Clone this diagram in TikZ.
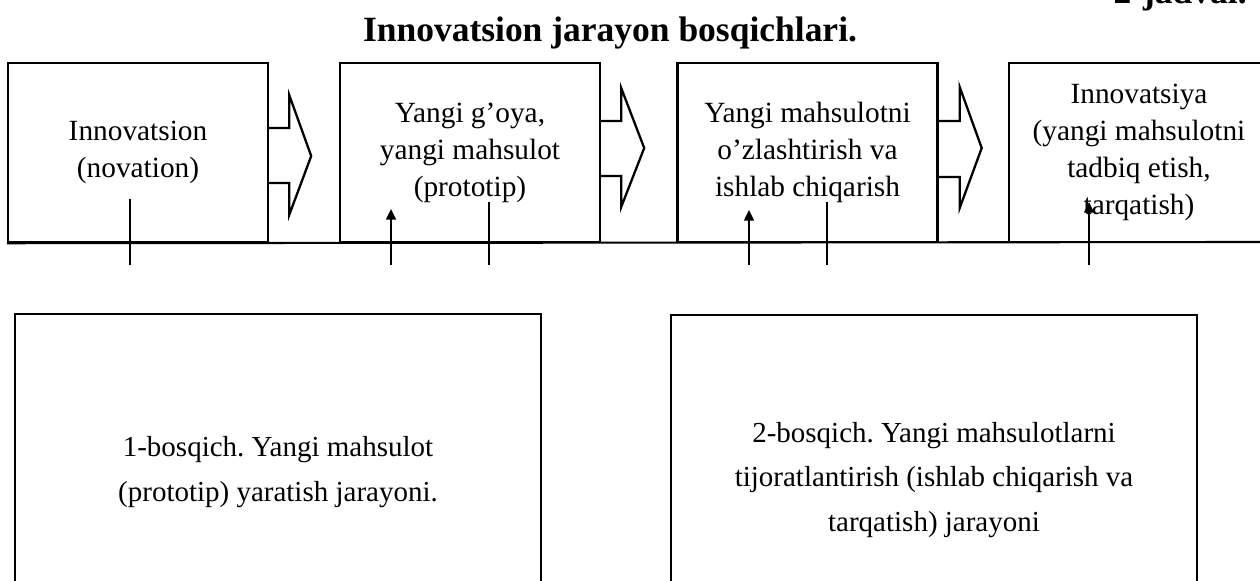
\documentclass[tikz,border=0pt]{standalone}
\usepackage{fontspec}
\setmainfont{Liberation Serif}
\usepackage{tikz}
\usetikzlibrary{calc,arrows.meta}
\frenchspacing
\tikzset{
	stage/.style={rectangle,draw,line width=1.4pt,minimum width=5.2cm,minimum height=3.58cm,inner sep=0pt,align=center,font=\fontsize{16.7}{21}\selectfont},
	phase/.style={rectangle,draw,line width=1.4pt,minimum width=10.52cm,inner sep=0pt,align=center,font=\fontsize{16.5}{25.5}\selectfont},
	heading/.style={font=\fontsize{20.2}{24}\selectfont\bfseries,inner sep=0pt},
	blockarrow/.style={line width=1.3pt,line join=miter},
	link/.style={line width=1.2pt},
	up/.style={line width=1.2pt,arrows={-Triangle[length=6pt,width=5.5pt]}}
	}

\begin{document}
\begin{tikzpicture}[x=0.02cm,y=-0.02cm]
          \useasboundingbox (0,0) rectangle (1260,581);
          \node[heading,anchor=base east] (tab) at (1247,4) {2-jadval.};
          \node[heading,anchor=base] (title) at (610,42) {Innovatsion jarayon bosqichlari.};

          \node[stage] (b1) at (138,152.5) {Innovatsion\\(novation)};
          \node[stage] (b2) at (470,152.5) {Yangi g’oya,\\yangi mahsulot\\(prototip)};
          \node[stage] (b3) at (807.5,152.5) {Yangi mahsulotni\\o’zlashtirish va\\ishlab chiqarish};
          \node[stage] (b4) at (1139,152.5) {Innovatsiya\\(yangi mahsulotni\\tadbiq etish,\\tarqatish)};

          \node[phase,minimum height=6.32cm] (p1) at (278,472) {1-bosqich. Yangi mahsulot\\(prototip) yaratish jarayoni.};
          \node[phase,minimum height=6.6cm] (p2) at (934,480) {2-bosqich. Yangi mahsulotlarni\\tijoratlantirish (ishlab chiqarish va\\tarqatish) jarayoni};

          \draw[blockarrow] (b1.east |- 0,128) -- ++(20,0) -- ++(0,-33) -- ++(22,61) -- ++(-22,59) -- ++(0,-32) -- ++(-20,0);
          \draw[blockarrow] (b2.east |- 0,121) -- ++(20,0) -- ++(0,-33) -- ++(23,60) -- ++(-23,59) -- ++(0,-31) -- ++(-20,0);
          \draw[blockarrow] (b3.east |- 0,121) -- ++(21,0) -- ++(0,-34) -- ++(22,61) -- ++(-22,60) -- ++(0,-31) -- ++(-21,0);

          \coordinate (base) at (1260,242);
          \draw[link] (b1.south west) -- (base);

          \coordinate (d1) at (130,199);
          \coordinate (d2) at (489,202);
          \coordinate (d3) at (827,202);
          \coordinate (u1) at (391,209);
          \coordinate (u2) at (749,210);
          \coordinate (u3) at (1089,202);
          \foreach \c in {d1,d2,d3,u1,u2,u3}
            \coordinate (\c-low) at (\c |- 0,265);

          \draw[link] (d1) -- (d1-low);
          \draw[link] (d2) -- (d2-low);
          \draw[link] (d3) -- (d3-low);
          \draw[up] (u1-low) -- (u1);
          \draw[up] (u2-low) -- (u2);
          \draw[up] (u3-low) -- (u3);
        \end{tikzpicture}
\end{document}
